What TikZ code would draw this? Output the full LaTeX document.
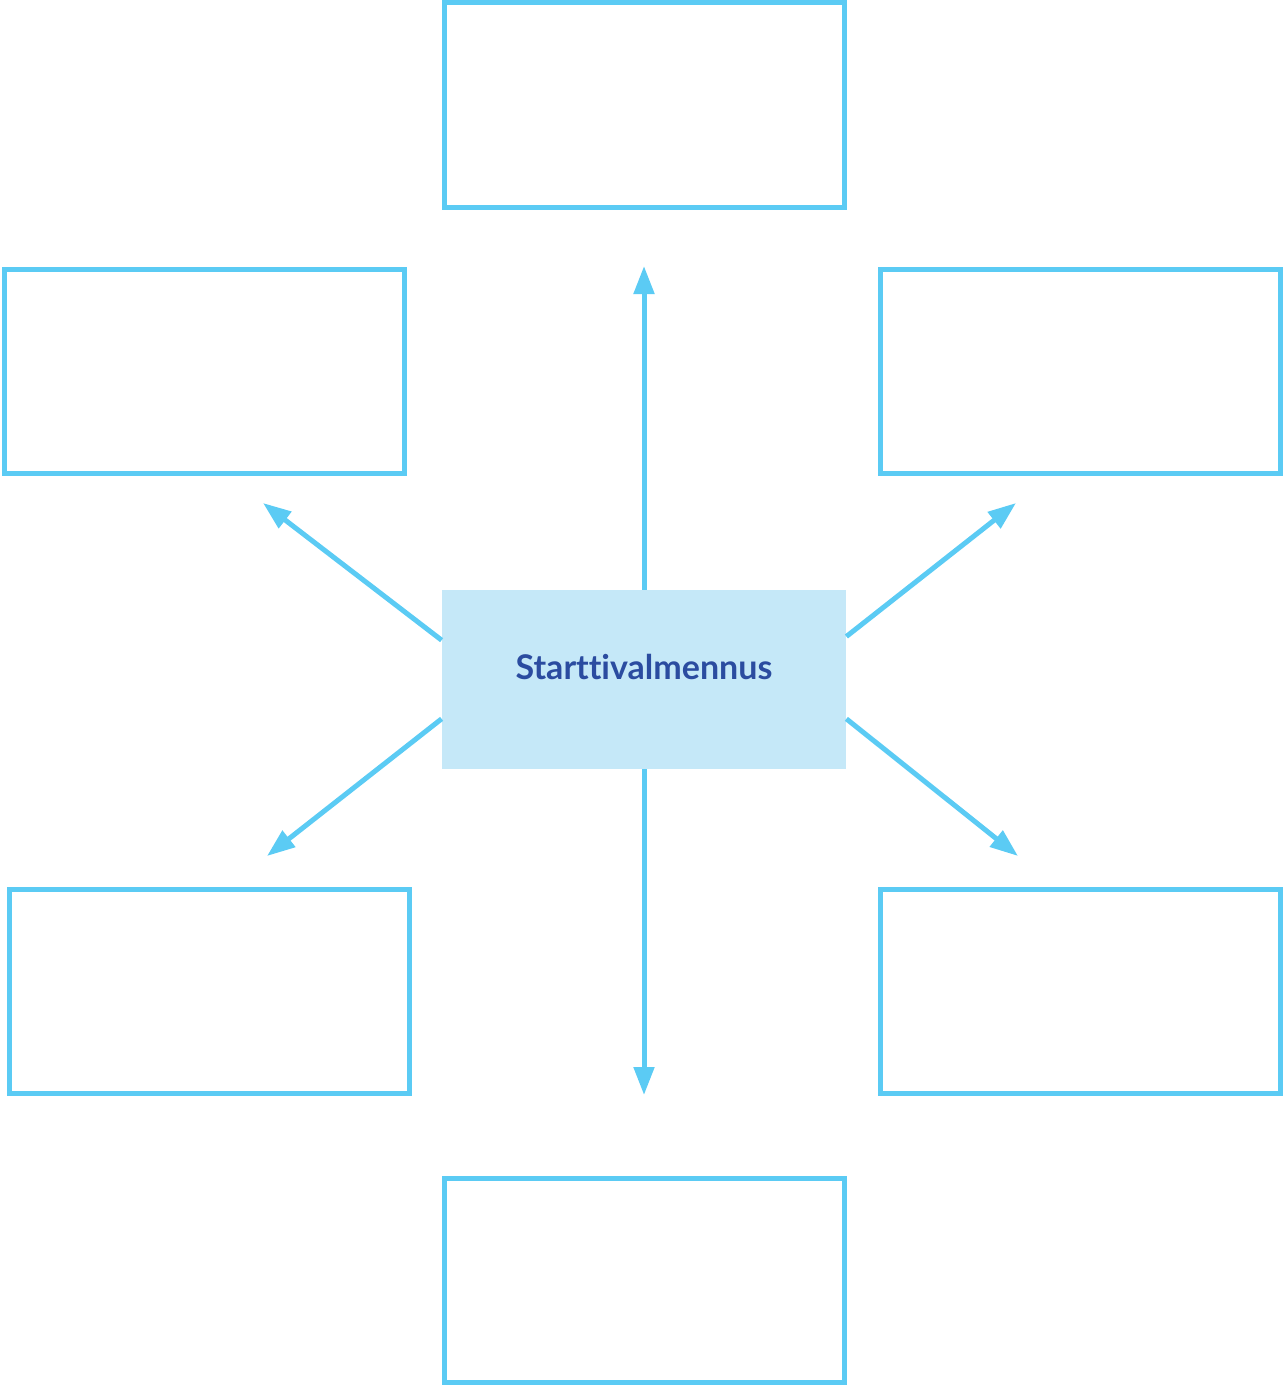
\documentclass[tikz,border=0pt]{standalone}
\usepackage{fontspec}
\setmainfont{Lato}[Ligatures=NoCommon]
\usetikzlibrary{arrows.meta}
\definecolor{lineblue}{HTML}{5BCBF4}
\definecolor{fillblue}{HTML}{C5E8F8}
\definecolor{textblue}{HTML}{2B4CA0}
\begin{document}
\begin{tikzpicture}[x=0.5pt, y=-0.5pt,
  emptybox/.style={rectangle, draw=lineblue, line width=2.5pt, minimum width=200pt, minimum height=102pt, inner sep=0pt},
  arr/.style={draw=lineblue, line width=2.5pt, -{Triangle[length=14pt, width=10pt]}}]
  \useasboundingbox (0,0) rectangle (1283,1386);
  \node[rectangle, fill=fillblue, minimum width=202pt, minimum height=89.5pt, inner sep=0pt, text height=10pt, text depth=10pt] (start) at (644,679.5) {\fontsize{17}{19}\selectfont\bfseries\color{textblue}Starttivalmennus};
  \node[emptybox] (top) at (644,105) {};
  \node[emptybox] (topleft) at (204.5,371) {};
  \node[emptybox] (topright) at (1080.5,371) {};
  \node[emptybox] (botleft) at (209.5,991.5) {};
  \node[emptybox] (botright) at (1080.5,991.5) {};
  \node[emptybox] (bottom) at (644,1280.5) {};
  \coordinate (tipup) at (644,266);
  \coordinate (tipdown) at (644,1095);
  \coordinate (tipul) at (263,503);
  \coordinate (tipur) at (1016,503);
  \coordinate (tipll) at (267,856);
  \coordinate (tiplr) at (1018,856);
  \draw[arr] (start.north) -- (tipup);
  \draw[arr] (start.south) -- (tipdown);
  \draw[arr] (start.169) -- (tipul);
  \draw[arr] (start.12) -- (tipur);
  \draw[arr] (start.191) -- (tipll);
  \draw[arr] (start.349) -- (tiplr);
\end{tikzpicture}
\end{document}
